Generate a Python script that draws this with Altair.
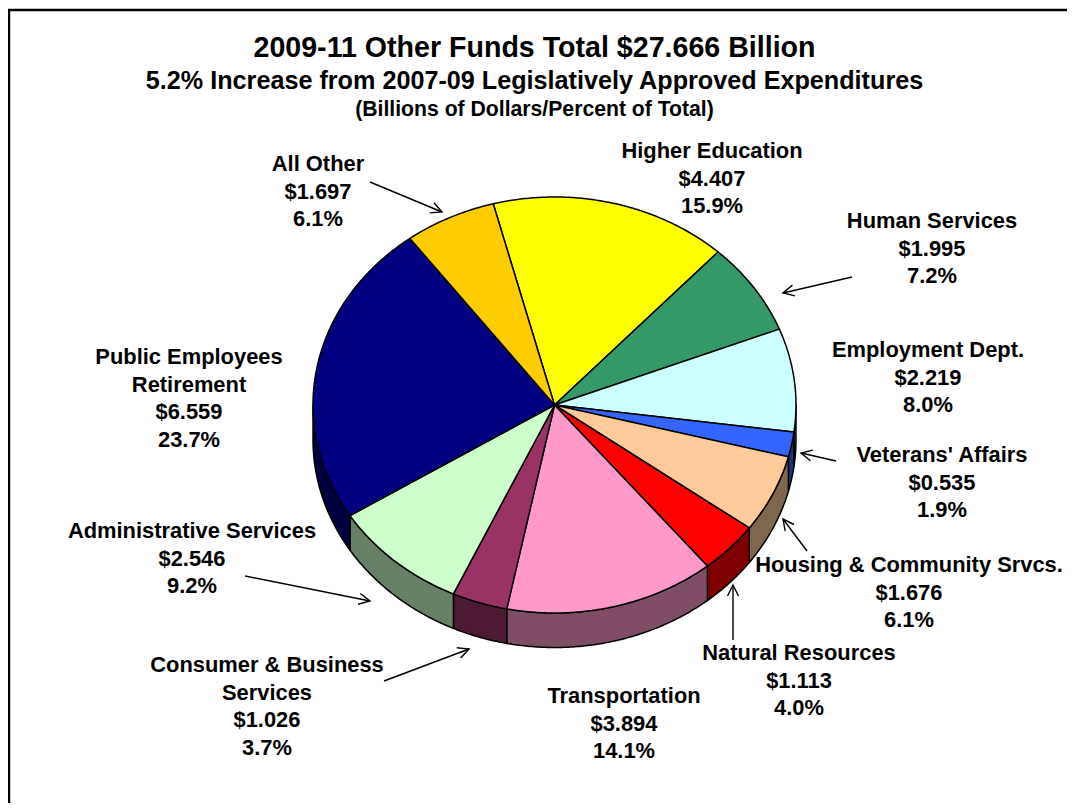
import math
import altair as alt
import pandas as pd

# ---- chart values ----
names = ["Higher Education", "Human Services", "Employment Dept.", "Veterans' Affairs",
         "Housing & Community Srvcs.", "Natural Resources", "Transportation",
         "Consumer & Business Services", "Administrative Services",
         "Public Employees Retirement", "All Other"]
billions = [4.407, 1.995, 2.219, 0.535, 1.676, 1.113, 3.894, 1.026, 2.546, 6.559, 1.697]
percents = ["15.9%", "7.2%", "8.0%", "1.9%", "6.1%", "4.0%", "14.1%", "3.7%", "9.2%", "23.7%", "6.1%"]
top_colors = ["#FFFF00", "#339966", "#CCFFFF", "#3366FF", "#FFCC99", "#FF0000",
              "#FF99CC", "#993366", "#CCFFCC", "#000080", "#FFCC00"]
wall_colors = ["#808000", "#1A4D33", "#668080", "#1A3380", "#80664D", "#800000",
               "#804D66", "#4D1A33", "#668066", "#000040", "#806600"]
label_lines = [["Higher Education"], ["Human Services"], ["Employment Dept."], ["Veterans' Affairs"],
               ["Housing & Community Srvcs."], ["Natural Resources"], ["Transportation"],
               ["Consumer & Business", "Services"], ["Administrative Services"],
               ["Public Employees", "Retirement"], ["All Other"]]

# ---- layout ----
W, H = 1059, 795
CX, CY, RX, RY, DEPTH = 554.5, 405, 241.5, 208, 34.5
START_DEG = -14.7
label_anchor = [(712, 158), (932, 228), (928, 357), (942, 462), (909, 572), (799, 660),
                (624, 703), (267, 672), (192, 538), (189, 364), (318, 171)]
LINE_GAP = 27.6
arrows = [((370, 182), (442, 212)), ((852, 277), (783, 293)), ((836, 461), (801, 453)),
          ((807, 551), (783, 519)), ((733, 640), (733, 585)), ((245, 576), (370, 601)),
          ((384, 681), (469, 649))]
titles = [("2009-11 Other Funds Total $27.666 Billion", 57, 28.6),
          ("5.2% Increase from 2007-09 Legislatively Approved Expenditures", 89, 25.2),
          ("(Billions of Dollars/Percent of Total)", 116, 21.2)]
LABEL_SIZE = 21.9
FONT = "Liberation Sans"
xs = alt.Scale(domain=[8, 8 + W], range=[0, W])
ys = alt.Scale(domain=[8, 8 + H], range=[0, H])
X = alt.X("x:Q", scale=xs, axis=None)
Y = alt.Y("y:Q", scale=ys, axis=None)


def pt(deg, dy=0.0):
    a = math.radians(deg)
    return CX + RX * math.sin(a), CY - RY * math.cos(a) + dy


def arc(a0, a1):
    n = max(2, int(abs(a1 - a0)) * 2)
    return [a0 + (a1 - a0) * k / n for k in range(n + 1)]


def poly(points, fill):
    df = pd.DataFrame({"x": [p[0] for p in points], "y": [p[1] for p in points],
                       "i": list(range(len(points)))})
    return alt.Chart(df).mark_line(interpolate="linear-closed", fill=fill, stroke="black",
                                   strokeWidth=1.5, strokeJoin="round").encode(
        x=X, y=Y, order="i:Q")


def stroke(points, width=1.4):
    df = pd.DataFrame({"x": [p[0] for p in points], "y": [p[1] for p in points],
                       "i": list(range(len(points)))})
    return alt.Chart(df).mark_line(color="black", strokeWidth=width).encode(x=X, y=Y, order="i:Q")


total = sum(billions)
bounds = [START_DEG]
for v in billions:
    bounds.append(bounds[-1] + v / total * 360)

layers = []
# outer frame
layers.append(stroke([(9, 812), (9, 10), (1076, 10)], 2.4))

# side walls (only the half facing the viewer)
for i in range(len(billions)):
    a0, a1 = max(bounds[i], 90), min(bounds[i + 1], 270)
    if a1 <= a0:
        continue
    angs = arc(a0, a1)
    layers.append(poly([pt(a) for a in angs] + [pt(a, DEPTH) for a in reversed(angs)], wall_colors[i]))

# top surface
for i in range(len(billions)):
    layers.append(poly([(CX, CY)] + [pt(a) for a in arc(bounds[i], bounds[i + 1])], top_colors[i]))

# arrows
for (x0, y0), (x1, y1) in arrows:
    L = math.hypot(x1 - x0, y1 - y0)
    ux, uy = (x1 - x0) / L, (y1 - y0) / L
    hl, hw = 11, 5.5
    layers.append(stroke([(x0, y0), (x1, y1)]))
    layers.append(stroke([(x1 - hl * ux - hw * uy, y1 - hl * uy + hw * ux), (x1, y1),
                          (x1 - hl * ux + hw * uy, y1 - hl * uy - hw * ux)]))

# labels
rows = []
for i, lines in enumerate(label_lines):
    full = lines + [f"${billions[i]:.3f}", percents[i]]
    for k, t in enumerate(full):
        rows.append({"x": label_anchor[i][0], "y": label_anchor[i][1] + k * LINE_GAP, "t": t})
layers.append(alt.Chart(pd.DataFrame(rows)).mark_text(
    font=FONT, fontWeight="bold", fontSize=LABEL_SIZE, align="center", baseline="alphabetic", color="black"
).encode(x=X, y=Y, text="t:N"))

# titles
for t, y, size in titles:
    layers.append(alt.Chart(pd.DataFrame({"x": [534.5], "y": [y], "t": [t]})).mark_text(
        font=FONT, fontWeight="bold", fontSize=size, align="center", baseline="alphabetic", color="black"
    ).encode(x=X, y=Y, text="t:N"))

chart = alt.layer(*layers).properties(
    width=W, height=H, padding=0, autosize=alt.AutoSizeParams(type="none"), background="white"
).configure_view(stroke=None)

chart.save("out.html", embed_options={"renderer": "svg", "actions": False})
